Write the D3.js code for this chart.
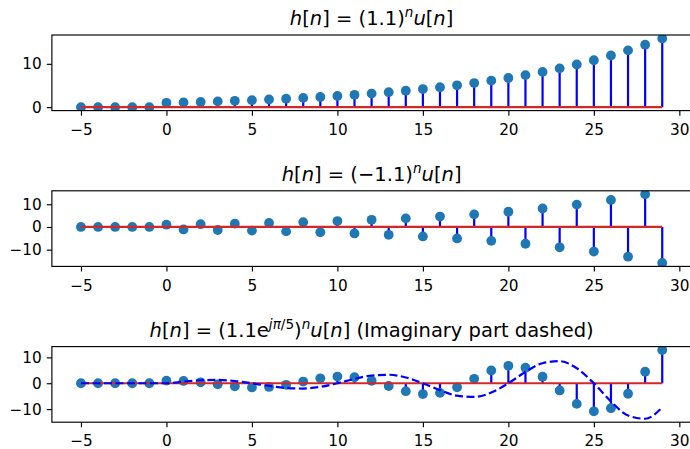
<!DOCTYPE html>
<meta charset="utf-8">
<style type="text/css">
body { margin: 0; background: #fff; }
svg { font-family: "DejaVu Sans", sans-serif; }
.title { font-size: 19.5px; fill: #000; }
.spine { fill: none; stroke: #000; stroke-width: 1.15; }
.stem { stroke: #0000ff; stroke-width: 2.2; }
.base { stroke: #d62728; stroke-width: 2.2; }
.dot { fill: #1f77b4; }
.imag { fill: none; stroke: #0000ff; stroke-width: 2.2; stroke-dasharray: 8, 3.5; }
</style>
<body>
<div id="chart"></div>
</body>
<script src="https://d3js.org/d3.v7.min.js"></script>
<script>

// sample index
var n = [-5, -4, -3, -2, -1, 0, 1, 2, 3, 4, 5, 6, 7, 8, 9, 10, 11, 12, 13, 14,
         15, 16, 17, 18, 19, 20, 21, 22, 23, 24, 25, 26, 27, 28, 29];

// (1.1)^n u[n]
var h1 = [0, 0, 0, 0, 0, 1.00, 1.10, 1.21, 1.33, 1.46, 1.61, 1.77, 1.95, 2.14, 2.36,
          2.59, 2.85, 3.14, 3.45, 3.80, 4.18, 4.59, 5.05, 5.56, 6.12, 6.73, 7.40,
          8.14, 8.95, 9.85, 10.83, 11.92, 13.11, 14.42, 15.86];

// (-1.1)^n u[n]
var h2 = [0, 0, 0, 0, 0, 1.00, -1.10, 1.21, -1.33, 1.46, -1.61, 1.77, -1.95, 2.14, -2.36,
          2.59, -2.85, 3.14, -3.45, 3.80, -4.18, 4.59, -5.05, 5.56, -6.12, 6.73, -7.40,
          8.14, -8.95, 9.85, -10.83, 11.92, -13.11, 14.42, -15.86];

// (1.1 e^{j pi/5})^n u[n], real part (stems)
var h3re = [0, 0, 0, 0, 0, 1.00, 0.89, 0.37, -0.41, -1.18, -1.61, -1.43, -0.60, 0.66, 1.91,
            2.59, 2.31, 0.97, -1.07, -3.07, -4.18, -3.72, -1.56, 1.72, 4.95, 6.73, 5.99,
            2.52, -2.77, -7.97, -10.83, -9.64, -4.05, 4.46, 12.83];

// imaginary part (dashed)
var h3im = [0, 0, 0, 0, 0, 0, 0.65, 1.15, 1.27, 0.86, 0, -1.04, -1.85, -2.04, -1.39,
            0, 1.68, 2.99, 3.28, 2.23, 0, -2.70, -4.81, -5.29, -3.60, 0, 4.35, 7.74,
            8.52, 5.79, 0, -7.01, -12.47, -13.72, -9.32];

var xTicks = [-5, 0, 5, 10, 15, 20, 25, 30];
var yTicks1 = [0, 10];
var yTicks2 = [-10, 0, 10];
var yTicks3 = [-10, 0, 10];

var width = 690, height = 449;
var axLeft = 51.9, axRight = 691.3, axHeight = 75.6;

var svg = d3.select("#chart").append("svg")
    .attr("width", width)
    .attr("height", height);

// shared x scale (matplotlib style 5% margins)
var xScale = d3.scaleLinear()
    .domain([-6.7, 30.7])
    .range([axLeft, axRight]);

// pieces of the mathtext titles: [text, italic, superscript]
var title1 = [["h", 1, 0], ["[", 0, 0], ["n", 1, 0], ["]", 0, 0], [" = (1.1)", 0, 0],
              ["n", 1, 1], ["u", 1, 0], ["[", 0, 0], ["n", 1, 0], ["]", 0, 0]];
var title2 = [["h", 1, 0], ["[", 0, 0], ["n", 1, 0], ["]", 0, 0], [" = (\u22121.1)", 0, 0],
              ["n", 1, 1], ["u", 1, 0], ["[", 0, 0], ["n", 1, 0], ["]", 0, 0]];
var title3 = [["h", 1, 0], ["[", 0, 0], ["n", 1, 0], ["]", 0, 0], [" = (1.1e", 0, 0],
              ["j\u03c0", 1, 1], ["/5", 0, 1], [")", 0, 0], ["n", 1, 1], ["u", 1, 0],
              ["[", 0, 0], ["n", 1, 0], ["]", 0, 0], [" (Imaginary part dashed)", 0, 0]];

var panels = [
    {top: 35, values: h1, ticks: yTicks1, title: title1},
    {top: 190.8, values: h2, ticks: yTicks2, title: title2},
    {top: 346.6, values: h3re, extra: h3im, ticks: yTicks3, title: title3}
];

function fmt(d) { return d < 0 ? "\u2212" + (-d) : d; }

function drawTitle(g, parts, y) {
    var t = g.append("text")
        .attr("class", "title")
        .attr("x", (axLeft + axRight) / 2)
        .attr("y", y)
        .attr("text-anchor", "middle");
    var up = false;
    parts.forEach(function(p) {
        var s = t.append("tspan").text(p[0]);
        if (p[1]) s.attr("font-style", "italic");
        if (p[2]) {
            s.attr("font-size", "13.6px");
            if (!up) { s.attr("dy", -7.9); up = true; }
        } else if (up) {
            s.attr("dy", 7.9); up = false;
        }
    });
}

panels.forEach(function(p, i) {
    var bottom = p.top + axHeight;
    var all = p.extra ? p.values.concat(p.extra) : p.values;
    var lo = d3.min(all), hi = d3.max(all), pad = (hi - lo) * 0.05;

    var yScale = d3.scaleLinear()
        .domain([lo - pad, hi + pad])
        .range([bottom, p.top]);

    var g = svg.append("g");

    g.append("clipPath").attr("id", "clip" + i)
      .append("rect")
        .attr("x", axLeft).attr("y", p.top)
        .attr("width", axRight - axLeft).attr("height", axHeight);

    var plot = g.append("g").attr("clip-path", "url(#clip" + i + ")");

    // stems
    plot.selectAll(".stem")
        .data(p.values)
      .enter().append("line")
        .attr("class", "stem")
        .attr("x1", function(d, k) { return xScale(n[k]); })
        .attr("x2", function(d, k) { return xScale(n[k]); })
        .attr("y1", yScale(0))
        .attr("y2", function(d) { return yScale(d); });

    // markers
    plot.selectAll(".dot")
        .data(p.values)
      .enter().append("circle")
        .attr("class", "dot")
        .attr("cx", function(d, k) { return xScale(n[k]); })
        .attr("cy", function(d) { return yScale(d); })
        .attr("r", 4.9);

    // baseline
    plot.append("line")
        .attr("class", "base")
        .attr("x1", xScale(n[0]))
        .attr("x2", xScale(n[n.length - 1]))
        .attr("y1", yScale(0))
        .attr("y2", yScale(0));

    // imaginary part, dashed
    if (p.extra) {
        var line = d3.line()
            .x(function(d, k) { return xScale(n[k]); })
            .y(function(d) { return yScale(d); })
            .curve(d3.curveMonotoneX);
        plot.append("path")
            .datum(p.extra)
            .attr("class", "imag")
            .attr("d", line);
    }

    // x axis ticks
    var xa = g.append("g")
        .attr("transform", "translate(0," + bottom + ")")
        .call(d3.axisBottom(xScale).tickValues(xTicks).tickSize(5.1).tickPadding(5.1)
            .tickFormat(fmt));
    xa.attr("font-family", "DejaVu Sans").attr("font-size", 15.3);
    xa.select(".domain").remove();
    xa.selectAll("line").attr("stroke", "#000").attr("stroke-width", 1.15);
    xa.selectAll("text").attr("fill", "#000").attr("dy", "0.92em");

    // y axis ticks
    var ya = g.append("g")
        .attr("transform", "translate(" + axLeft + ",0)")
        .call(d3.axisLeft(yScale).tickValues(p.ticks).tickSize(5.1).tickPadding(5.1)
            .tickFormat(fmt));
    ya.attr("font-family", "DejaVu Sans").attr("font-size", 15.3);
    ya.select(".domain").remove();
    ya.selectAll("line").attr("stroke", "#000").attr("stroke-width", 1.15);
    ya.selectAll("text").attr("fill", "#000");

    // axes frame
    g.append("rect")
        .attr("class", "spine")
        .attr("x", axLeft).attr("y", p.top)
        .attr("width", axRight - axLeft).attr("height", axHeight);

    drawTitle(g, p.title, p.top - 10);
});

</script>
